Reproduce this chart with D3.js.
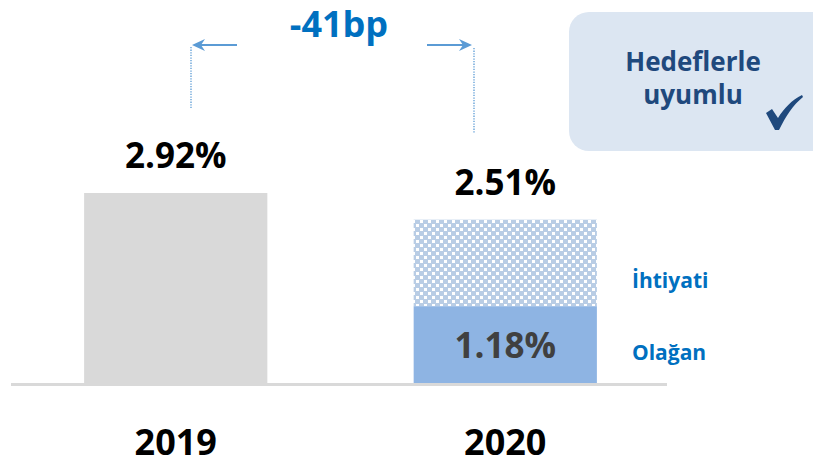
<!DOCTYPE html>
<html>
<head>
<meta charset="utf-8">
<script src="https://cdn.jsdelivr.net/npm/d3@7/dist/d3.min.js"></script>
<style>
  html, body { margin: 0; padding: 0; background: #ffffff; }
  svg { display: block; font-family: "Open Sans", "Noto Sans", sans-serif; }
</style>
</head>
<body>
<svg id="chart" width="813" height="465"></svg>
<script>
// Data
const years = ["2019", "2020"];
const totalRatio = [2.92, 2.51];      // total (%)
const ordinaryRatio = [null, 1.18];   // "Olağan" portion (%)
const totalLabels = ["2.92%", "2.51%"];
const ordinaryLabel = "1.18%";
const changeLabel = "-41bp";
const segmentNames = ["İhtiyati", "Olağan"];
const noteLines = ["Hedeflerle", "uyumlu"];

const svg = d3.select("#chart");
const baseY = 383;

const x = d3.scaleBand().domain(years).range([18.2, 662.8]).paddingInner(0.444).paddingOuter(0.2);
const y = d3.scaleLinear().domain([0, 2.92]).range([baseY, 193]);

// Checkered pattern for the precautionary segment
const defs = svg.append("defs");
const pat = defs.append("pattern")
  .attr("id", "checker").attr("patternUnits", "userSpaceOnUse")
  .attr("width", 8).attr("height", 8);
pat.append("rect").attr("width", 8).attr("height", 8).attr("fill", "#b9cde5");
pat.append("rect").attr("x", 0).attr("y", 0).attr("width", 3).attr("height", 3).attr("fill", "#ffffff");
pat.append("rect").attr("x", 4).attr("y", 4).attr("width", 3).attr("height", 3).attr("fill", "#ffffff");

// Bars
const bw = x.bandwidth();
svg.append("rect")
  .attr("x", x("2019")).attr("y", y(totalRatio[0]))
  .attr("width", bw).attr("height", y(0) - y(totalRatio[0]))
  .attr("fill", "#d9d9d9");

svg.append("rect")
  .attr("x", x("2020")).attr("y", y(totalRatio[1]))
  .attr("width", bw).attr("height", y(ordinaryRatio[1]) - y(totalRatio[1]))
  .attr("fill", "url(#checker)");

svg.append("rect")
  .attr("x", x("2020")).attr("y", y(ordinaryRatio[1]))
  .attr("width", bw).attr("height", y(0) - y(ordinaryRatio[1]))
  .attr("fill", "#8eb4e3");

// Baseline
svg.append("line")
  .attr("x1", 11).attr("x2", 667).attr("y1", baseY + 1.5).attr("y2", baseY + 1.5)
  .attr("stroke", "#d9d9d9").attr("stroke-width", 3);

// Category labels
const xAxis = d3.axisBottom(x).tickSize(0).tickPadding(0);
const axG = svg.append("g").attr("transform", `translate(0,${baseY})`).call(xAxis);
axG.select(".domain").remove();
axG.selectAll("text")
  .attr("dy", null).attr("y", 72)
  .attr("font-family", "'Open Sans', sans-serif")
  .attr("font-size", 36).attr("font-weight", 700).attr("fill", "#000000");

// Value labels above the bars
svg.selectAll(".total-label").data(years).join("text")
  .attr("class", "total-label")
  .attr("x", d => x(d) + bw / 2)
  .attr("y", (d, i) => y(totalRatio[i]) - 25)
  .attr("text-anchor", "middle")
  .attr("font-size", 35).attr("font-weight", 700).attr("fill", "#000000")
  .text((d, i) => totalLabels[i]);

// Label inside the ordinary segment
svg.append("text")
  .attr("x", x("2020") + bw / 2)
  .attr("y", (y(ordinaryRatio[1]) + y(0)) / 2 + 13)
  .attr("text-anchor", "middle")
  .attr("font-size", 35).attr("font-weight", 700).attr("fill", "#404040")
  .text(ordinaryLabel);

// Segment names
const segY = [y((totalRatio[1] + ordinaryRatio[1]) / 2) + 25, y(ordinaryRatio[1] / 2) + 15];
svg.selectAll(".seg-name").data(segmentNames).join("text")
  .attr("class", "seg-name")
  .attr("x", 632).attr("y", (d, i) => segY[i])
  .attr("font-size", 21).attr("font-weight", 700).attr("fill", "#0070c0")
  .text(d => d);

// Change annotation with arrows
svg.append("text")
  .attr("x", 339).attr("y", 37)
  .attr("text-anchor", "middle")
  .attr("font-size", 36).attr("font-weight", 700).attr("fill", "#0070c0")
  .text(changeLabel);

const arrowCol = "#5b9bd5";
function arrow(x1, x2, yy) {
  const dir = Math.sign(x2 - x1);
  svg.append("line")
    .attr("x1", x1).attr("x2", x2 - dir * 8).attr("y1", yy).attr("y2", yy)
    .attr("stroke", arrowCol).attr("stroke-width", 2);
  svg.append("path")
    .attr("d", `M${x2},${yy} L${x2 - dir * 13},${yy - 6} L${x2 - dir * 9},${yy} L${x2 - dir * 13},${yy + 6} Z`)
    .attr("fill", arrowCol);
}
arrow(237, 192, 45);
arrow(427, 472, 45);

svg.append("line")
  .attr("x1", 191).attr("x2", 191).attr("y1", 47).attr("y2", 109)
  .attr("stroke", arrowCol).attr("stroke-width", 1.3).attr("stroke-dasharray", "1.3,1.3");
svg.append("line")
  .attr("x1", 474).attr("x2", 474).attr("y1", 48).attr("y2", 133)
  .attr("stroke", arrowCol).attr("stroke-width", 1.3).attr("stroke-dasharray", "1.3,1.3");

// Note box
svg.append("rect")
  .attr("x", 569).attr("y", 12).attr("width", 270).attr("height", 139)
  .attr("rx", 20).attr("fill", "#dce6f2");
svg.selectAll(".note").data(noteLines).join("text")
  .attr("class", "note")
  .attr("x", 693).attr("y", (d, i) => 71 + i * 33)
  .attr("text-anchor", "middle")
  .attr("font-size", 26).attr("font-weight", 700).attr("fill", "#1f497d")
  .text(d => d);

// Check mark
svg.append("path")
  .attr("d", "M766,113 L772,109 L778,118 C784,108 792,100 802,95 L803,97 C793,105 786,116 779,130 L775,130 Z")
  .attr("fill", "#1f497d");
</script>
</body>
</html>
